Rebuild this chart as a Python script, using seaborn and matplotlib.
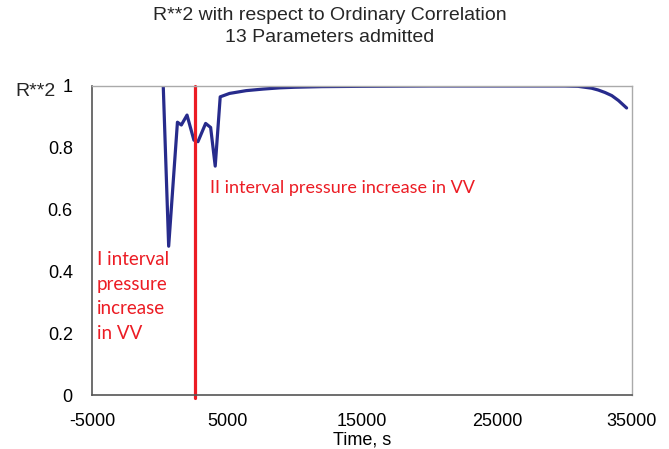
import matplotlib
matplotlib.use("Agg")
import matplotlib.pyplot as plt
import seaborn as sns
import pandas as pd

time_s = [180, 660, 1310, 1600, 2020, 2530, 2830, 3400, 3770, 4110, 4480, 5170,
          6400, 7630, 8860, 10000, 12000, 15000, 20000, 25000, 30000, 31000,
          32000, 32500, 33000, 33500, 34000, 34600]
r_squared = [1.10, 0.481, 0.882, 0.873, 0.905, 0.824, 0.819, 0.878, 0.865, 0.740,
             0.964, 0.975, 0.984, 0.989, 0.993, 0.995, 0.997, 0.998, 0.999, 0.999,
             0.999, 0.998, 0.992, 0.986, 0.978, 0.968, 0.952, 0.928]
marker_time = 2585
x_ticks = [-5000, 5000, 15000, 25000, 35000]
y_ticks = [0, 0.2, 0.4, 0.6, 0.8, 1]
y_tick_labels = ["0", "0.2", "0.4", "0.6", "0.8", "1"]

sns.set_theme(style="white")
plt.rcParams['font.family'] = ['Liberation Sans', 'DejaVu Sans']
sans = ['Liberation Sans', 'DejaVu Sans']

fig = plt.figure(figsize=(6.69, 4.49), dpi=100)
ax = fig.add_axes([92.3/669, 1-395/449, (632-92.3)/669, (395-85.7)/449])

df = pd.DataFrame({"t": time_s, "r2": r_squared})
sns.lineplot(data=df, x="t", y="r2", sort=False, ax=ax, color="#272b8c", linewidth=2.3)
ax.axvline(marker_time, color="#ec1c24", linewidth=2.3, ymin=-0.01, ymax=1, clip_on=False)

ax.set_xlim(-5000, 35000)
ax.set_ylim(0, 1)
ax.set_xticks(x_ticks)
ax.set_xticklabels([str(v) for v in x_ticks], family=sans)
ax.set_yticks(y_ticks)
ax.set_yticklabels(y_tick_labels, family=sans)
ax.tick_params(axis="x", direction="in", length=5, width=1, color="#555555", pad=13, labelsize=13, labelcolor="black")
ax.tick_params(axis="y", direction="inout", length=8, width=1, color="#555555", pad=10, labelsize=13, labelcolor="black")
ax.set_xlabel("Time, s", fontsize=13, labelpad=1, color="black", family=sans)
ax.set_ylabel("")

for s in ["left", "bottom"]:
    ax.spines[s].set_color("#555555")
    ax.spines[s].set_linewidth(1.2)
for s in ["top", "right"]:
    ax.spines[s].set_color("#aaaaaa")
    ax.spines[s].set_linewidth(1.0)

fig.text(15/669, 1-91/449, "R**2", fontsize=14, va="center", ha="left", family=sans)
fig.text(330/669, 1-15/449, "R**2 with respect to Ordinary Correlation", fontsize=14, ha="center", va="center", family=sans)
fig.text(330/669, 1-37/449, "13 Parameters admitted", fontsize=14, ha="center", va="center", family=sans)

red_font = ['Lato', 'DejaVu Sans']
fig.text(210/669, 1-188/449, "II interval pressure increase in VV", fontsize=13,
         color="#ec1c24", family=red_font, ha="left", va="center")
fig.text(97/669, 1-296.5/449, "I interval\npressure\nincrease\nin VV", fontsize=13.5,
         color="#ec1c24", family=red_font, ha="left", va="center", linespacing=1.55)

fig.savefig("out.png", dpi=100)
